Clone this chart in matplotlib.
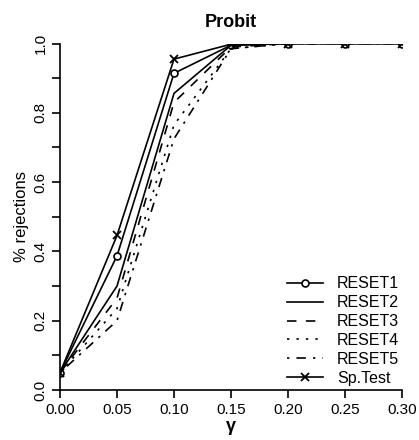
import matplotlib
matplotlib.use('Agg')
from matplotlib import pyplot as plt

plt.rcParams['font.family'] = ['Liberation Sans', 'DejaVu Sans']
plt.rcParams['lines.scale_dashes'] = False

gamma = [0.00, 0.05, 0.10, 0.15, 0.20, 0.25, 0.30]
reset1 = [0.05, 0.387, 0.914, 0.995, 1.0, 1.0, 1.0]
reset2 = [0.05, 0.300, 0.856, 0.995, 1.0, 1.0, 1.0]
reset3 = [0.05, 0.265, 0.830, 0.990, 1.0, 1.0, 1.0]
reset4 = [0.05, 0.235, 0.765, 0.985, 1.0, 1.0, 1.0]
reset5 = [0.05, 0.200, 0.725, 0.985, 1.0, 1.0, 1.0]
sptest = [0.05, 0.446, 0.955, 0.998, 1.0, 1.0, 1.0]

u = 1.7  # dash unit in points
lw = 1.2

fig = plt.figure(figsize=(4.19, 4.4), dpi=100)
ax = fig.add_axes([0.1432, 0.1136, 0.8162, 0.7875])

ax.plot(gamma, reset1, color='black', lw=lw, marker='o', ms=5, mfc='white', mew=1.2, label='RESET1')
ax.plot(gamma, reset2, color='black', lw=lw, label='RESET2')
ax.plot(gamma, reset3, color='black', lw=lw, dashes=(4*u, 4*u), label='RESET3')
ax.plot(gamma, reset4, color='black', lw=lw, dashes=(1*u, 3*u), label='RESET4')
ax.plot(gamma, reset5, color='black', lw=lw, dashes=(1*u, 3*u, 4*u, 3*u), label='RESET5')
ax.plot(gamma, sptest, color='black', lw=lw, marker='x', ms=6, mew=1.3, label='Sp.Test')

ax.set_xlim(0, 0.30)
ax.set_ylim(0, 1.0)
ax.set_xticks([0.00, 0.05, 0.10, 0.15, 0.20, 0.25, 0.30])
ax.set_xticklabels(['0.00', '0.05', '0.10', '0.15', '0.20', '0.25', '0.30'])
ax.set_yticks([0.0, 0.2, 0.4, 0.6, 0.8, 1.0])
ax.set_yticklabels(['0.0', '0.2', '0.4', '0.6', '0.8', '1.0'], rotation=90, va='center')
ax.set_yticks([0.1, 0.3, 0.5, 0.7, 0.9], minor=True)
ax.tick_params(which='both', direction='out', length=6, width=1.2, labelsize=11, colors='black')
ax.tick_params(axis='x', pad=3)
ax.tick_params(axis='y', pad=3)

for s in ['top', 'right']:
    ax.spines[s].set_visible(False)
for s in ['left', 'bottom']:
    ax.spines[s].set_linewidth(1.2)

ax.set_title('Probit', fontsize=13, fontweight='bold', pad=12)
ax.set_xlabel('γ', fontsize=13, fontweight='bold', labelpad=1)
ax.set_ylabel('% rejections', fontsize=12, labelpad=3)

ax.legend(loc='lower right', bbox_to_anchor=(1.02, -0.015), borderaxespad=0.2, frameon=False,
          fontsize=11.5, handlelength=2.2, handletextpad=0.9, labelspacing=0.24)

fig.savefig('out.png', dpi=100)
